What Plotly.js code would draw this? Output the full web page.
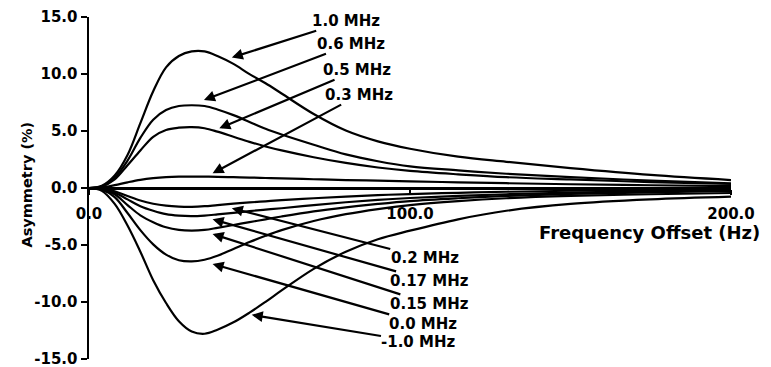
<!DOCTYPE html>
<html>
<head>
<meta charset="utf-8">
<script src="https://cdn.plot.ly/plotly-3.0.1.min.js"></script>
<style>html,body{margin:0;padding:0;background:#fff}#chart{width:771px;height:367px}</style>
</head>
<body>
<div id="chart"></div>
<script>
// ---- data ----
const freqOffset = [0,4,8,12,16,20,24,28,32,36,40,45,50,55,60,70,80,90,100,115,130,150,175,200];
const asym_1_0  = [0,0.2,1.1,2.9,5.7,8.5,10.6,11.6,12.0,12.0,11.6,10.9,10.0,9.2,8.3,6.5,5.05,4.1,3.45,2.75,2.3,1.75,1.15,0.7];
const asym_0_6  = [0,0.15,0.9,2.4,4.4,6.0,6.85,7.2,7.27,7.2,6.9,6.4,5.8,5.2,4.7,3.8,2.95,2.35,1.9,1.55,1.25,0.95,0.65,0.41];
const asym_0_5  = [0,0.12,0.75,2.0,3.3,4.5,5.1,5.3,5.35,5.25,4.95,4.5,4.05,3.65,3.3,2.7,2.2,1.8,1.5,1.2,0.95,0.75,0.52,0.35];
const asym_0_3  = [0,0.05,0.25,0.5,0.72,0.87,0.96,1.0,1.0,1.0,0.98,0.95,0.92,0.88,0.84,0.77,0.7,0.64,0.58,0.5,0.42,0.33,0.24,0.17];
const asym_0_2  = [0,-0.05,-0.28,-0.7,-1.1,-1.38,-1.55,-1.63,-1.65,-1.6,-1.5,-1.38,-1.27,-1.17,-1.07,-0.9,-0.75,-0.63,-0.53,-0.42,-0.33,-0.24,-0.16,-0.1];
const asym_0_17 = [0,-0.08,-0.4,-1.0,-1.6,-2.0,-2.3,-2.43,-2.47,-2.42,-2.32,-2.18,-2.03,-1.9,-1.78,-1.5,-1.25,-1.05,-0.88,-0.7,-0.55,-0.4,-0.27,-0.17];
const asym_0_15 = [0,-0.1,-0.55,-1.5,-2.4,-3.0,-3.45,-3.68,-3.74,-3.68,-3.5,-3.25,-3.0,-2.75,-2.5,-2.05,-1.7,-1.4,-1.15,-0.9,-0.7,-0.52,-0.38,-0.26];
const asym_0_0  = [0,-0.15,-0.8,-2.2,-3.7,-4.95,-5.85,-6.35,-6.45,-6.3,-5.95,-5.35,-4.75,-4.2,-3.7,-2.9,-2.3,-1.85,-1.5,-1.15,-0.9,-0.7,-0.55,-0.44];
const asym_m1_0 = [0,-0.25,-1.4,-3.3,-5.6,-8.1,-10.1,-11.7,-12.6,-12.8,-12.45,-11.8,-10.95,-10.0,-9.0,-7.1,-5.6,-4.5,-3.75,-2.75,-2.0,-1.4,-1.0,-0.76];

const seriesNames = ['1.0 MHz','0.6 MHz','0.5 MHz','0.3 MHz','0.2 MHz','0.17 MHz','0.15 MHz','0.0 MHz','-1.0 MHz'];
const seriesValues = [asym_1_0, asym_0_6, asym_0_5, asym_0_3, asym_0_2, asym_0_17, asym_0_15, asym_0_0, asym_m1_0];

const xTickVals = [0, 100, 200];
const xTickText = ['0.0', '100.0', '200.0'];
const yTickVals = [-15, -10, -5, 0, 5, 10, 15];
const yTickText = ['-15.0', '-10.0', '-5.0', '0.0', '5.0', '10.0', '15.0'];

// label placement: [label centre x, y, arrow tip x, y] in data units
const labelPos = [
  [80.1, 14.65, 44.5, 11.46],
  [81.6, 12.63, 35.8, 7.72],
  [83.5, 10.35, 40.6, 5.24],
  [84.1, 8.16, 38.5, 1.29],
  [104.6, -6.14, 44.5, -1.78],
  [106.1, -8.16, 38.5, -2.75],
  [106.2, -10.18, 38.5, -4.04],
  [103.9, -11.93, 38.5, -6.67],
  [102.8, -13.55, 50.7, -11.14]
];

const boldFont = {family: 'DejaVu Sans', size: 15, color: '#000', weight: 'bold'};

const traces = seriesValues.map((vals, i) => ({
  type: 'scatter', mode: 'lines', name: seriesNames[i],
  x: freqOffset, y: vals,
  line: {color: '#000', width: 2.2, shape: 'spline', smoothing: 1},
  hoverinfo: 'skip'
}));

const annotations = seriesNames.map((name, i) => ({
  text: name, xref: 'x', yref: 'y', axref: 'x', ayref: 'y',
  x: labelPos[i][2], y: labelPos[i][3], ax: labelPos[i][0], ay: labelPos[i][1],
  showarrow: true, arrowhead: 2, arrowsize: 1, arrowwidth: 2.2, arrowcolor: '#000',
  font: boldFont, borderpad: 0
}));

annotations.push({
  text: 'Frequency Offset (Hz)', xref: 'paper', yref: 'paper',
  x: 1.048, y: 0.37, xanchor: 'right', yanchor: 'middle', showarrow: false,
  font: {family: 'DejaVu Sans', size: 18, color: '#000', weight: 'bold'}
});
annotations.push({
  text: 'Asymmetry (%)', xref: 'paper', yref: 'paper', textangle: -90,
  x: -0.0966, y: 0.51, xanchor: 'center', yanchor: 'middle', showarrow: false,
  font: {family: 'DejaVu Sans', size: 14.5, color: '#000', weight: 'bold'}
});

const layout = {
  width: 771, height: 367,
  margin: {l: 89, r: 40, t: 17, b: 8},
  paper_bgcolor: '#fff', plot_bgcolor: '#fff',
  showlegend: false,
  xaxis: {
    range: [0, 200], anchor: 'free', position: 0.5,
    showgrid: false, zeroline: false,
    showline: true, linecolor: '#000', linewidth: 2.5,
    ticks: 'outside', ticklen: 5, tickwidth: 1.5, tickcolor: '#000',
    tickvals: xTickVals, ticktext: xTickText, ticklabelstandoff: 6,
    ticklabeloverflow: 'allow',
    tickfont: boldFont
  },
  yaxis: {
    range: [-15.02, 15.02],
    showgrid: false, zeroline: false,
    showline: true, linecolor: '#000', linewidth: 2.5,
    ticks: 'outside', ticklen: 6, tickwidth: 2, tickcolor: '#000',
    tickvals: yTickVals, ticktext: yTickText, ticklabelstandoff: 0,
    ticklabeloverflow: 'allow',
    tickfont: boldFont
  },
  annotations: annotations
};

Plotly.newPlot('chart', traces, layout, {staticPlot: true, displayModeBar: false});
</script>
</body>
</html>
